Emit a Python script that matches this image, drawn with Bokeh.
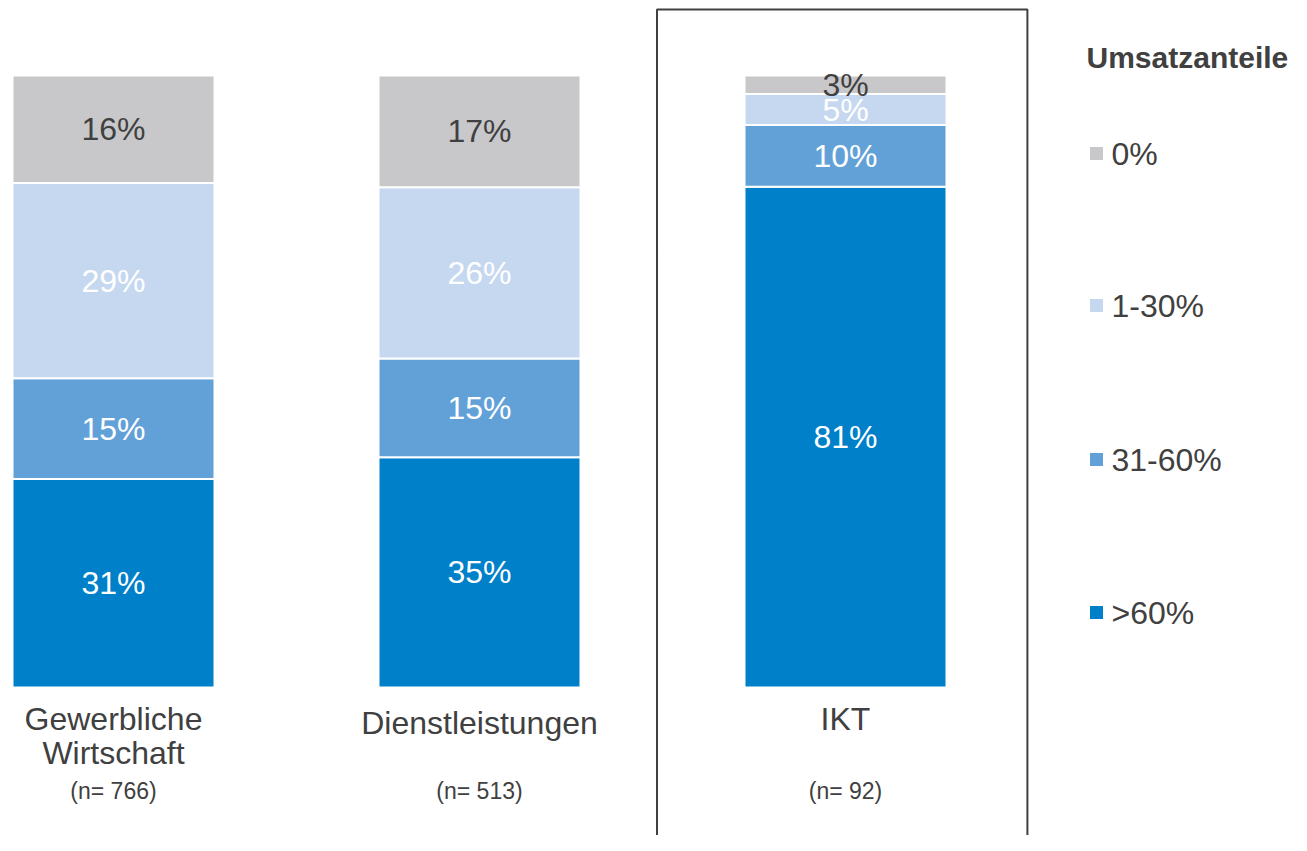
from bokeh.plotting import figure
from bokeh.models import Range1d, ColumnDataSource, BoxAnnotation
from bokeh.core.properties import value
from bokeh.embed import file_html
from bokeh.resources import INLINE

# ---- data ----
categories = ["Gewerbliche\nWirtschaft", "Dienstleistungen", "IKT"]
sample_sizes = ["(n= 766)", "(n= 513)", "(n= 92)"]
series = [">60%", "31-60%", "1-30%", "0%"]          # bottom -> top
share_gt60 = [31, 35, 81]
share_31_60 = [15, 15, 10]
share_1_30 = [29, 26, 5]
share_0 = [16, 17, 3]
colors = ["#0080C8", "#62A1D8", "#C5D8F0", "#C8C8CA"]
label_colors = ["white", "white", "white", "#404040"]

values = [share_gt60, share_31_60, share_1_30, share_0]
FONT = "Liberation Sans"
DARK = "#404040"

W, H = 1291, 835
OX, OY = 0, 0                # page offset of the canvas in the screenshot
X0, XS = 113.0, 366.0        # centre of first bar, distance between bars
Y0, YS = 687.0, 612.0        # baseline, full (100%) height


def dx(sx):
    return (sx - X0) / XS


def dy(sy):
    return (Y0 - sy) / YS


p = figure(width=W, height=H, output_backend="svg", toolbar_location=None,
           x_axis_type=None, y_axis_type=None, min_border=0,
           x_range=Range1d(dx(OX), dx(OX + W)), y_range=Range1d(dy(OY + H), dy(OY)))
p.outline_line_color = None
p.background_fill_color = "white"

xs = list(range(len(categories)))
totals = [sum(v[i] for v in values) for i in xs]
norm = {s: [values[k][i] / totals[i] for i in xs] for k, s in enumerate(series)}
src = ColumnDataSource(dict(x=xs, **norm))
p.vbar_stack(series, x="x", width=202 / XS, color=colors, line_color="white",
             line_width=2, source=src)

# value labels
lx, ly, lt, lc = [], [], [], []
for i in xs:
    bottom = 0.0
    for k, s in enumerate(series):
        h = norm[s][i]
        lx.append(i)
        ly.append(bottom + h / 2)
        lt.append(f"{values[k][i]}%")
        lc.append(label_colors[k])
        bottom += h
p.text(x=lx, y=ly, text=lt, text_color=lc, text_font=value(FONT),
       text_font_size="32px", text_align="center", text_baseline="middle")

# category labels
p.text(x=xs, y=[dy(700), dy(704), dy(700)], text=categories, text_color=DARK,
       text_font=value(FONT), text_font_size="32px", text_align="center",
       text_baseline="top", text_line_height=0.96)
p.text(x=xs, y=[dy(790)] * 3, text=sample_sizes, text_color=DARK,
       text_font=value(FONT), text_font_size="23px", text_align="center",
       text_baseline="middle")

# highlight box around IKT
hl = 2
p.add_layout(BoxAnnotation(left=hl - 0.515, right=hl + 0.497, top=dy(9), bottom=dy(900),
                           fill_alpha=0, line_color=DARK, line_alpha=1, line_width=2))

# legend (manual)
leg_order = ["0%", "1-30%", "31-60%", ">60%"]
leg_y = [dy(153), dy(305), dy(459), dy(612)]
leg_col = [colors[series.index(s)] for s in leg_order]
p.scatter(x=[dx(1096)] * 4, y=leg_y, marker="square", size=13, fill_color=leg_col,
          line_color=None)
p.text(x=[dx(1111)] * 4, y=leg_y, text=leg_order, text_color=DARK,
       text_font=value(FONT), text_font_size="32px", text_baseline="middle")
p.text(x=[dx(1086)], y=[dy(57)], text=["Umsatzanteile"], text_color=DARK,
       text_font=value(FONT), text_font_size="30px", text_font_style="bold",
       text_baseline="middle")

open("out.html", "w").write(file_html(p, INLINE))
